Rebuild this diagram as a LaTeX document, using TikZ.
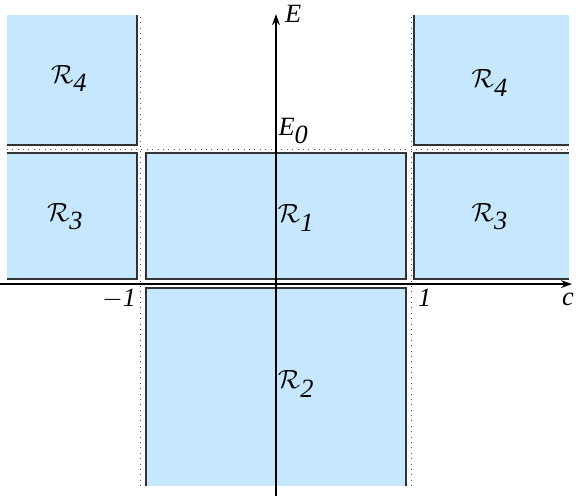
\documentclass[tikz,border=0pt]{standalone}
\usepackage{fontspec}
\setmainfont{Liberation Serif}
\usetikzlibrary{arrows.meta,positioning}
\definecolor{regfill}{RGB}{197,231,255}

\begin{document}
\begin{tikzpicture}[x=2.16cm, y=2.16cm, font=\large, region/.style={fill=regfill}, rim/.style={draw=black!80, line width=0.7pt}, guide/.style={dotted, draw=black!70, line width=0.45pt}, axis/.style={-{Stealth[length=5pt,width=3.5pt]}, line width=0.8pt}, lbl/.style={font=\large\itshape, inner sep=1pt}, rname/.style={inner sep=0pt}]
\useasboundingbox (-2.044,-1.570) rectangle (2.222,2.104);
% regions
\fill[region] (-1.993,1.030) rectangle (-1.030,1.993);
\fill[region] (1.022,1.030) rectangle (2.170,1.993);
\fill[region] (-1.993,0.037) rectangle (-1.030,0.970);
\fill[region] (-0.963,0.037) rectangle (0.963,0.970);
\fill[region] (1.022,0.037) rectangle (2.170,0.970);
\fill[region] (-0.963,-1.496) rectangle (0.963,-0.030);
% region edges
\draw[rim] (-1.993,1.030) -| (-1.030,1.993);
\draw[rim] (2.170,1.030) -| (1.022,1.993);
\draw[rim] (-1.993,0.970) -| (-1.030,0.037) -- (-1.993,0.037);
\draw[rim] (-0.963,0.037) rectangle (0.963,0.970);
\draw[rim] (2.170,0.970) -| (1.022,0.037) -- (2.170,0.037);
\draw[rim] (-0.963,-1.496) |- (0.963,-0.030) -- (0.963,-1.496);
% dotted guides
\draw[guide] (-1,-1.496) -- (-1,1.993);
\draw[guide] (1,-1.496) -- (1,1.993);
\draw[guide] (-1.993,1) -- (2.170,1);
% axes
\coordinate (ebot) at (0,-1.570);
\coordinate (etip) at (0,2.0);
\coordinate (cbeg) at (-2.044,0);
\coordinate (ctip) at (2.193,0);
\coordinate (e0) at (0,1);
\coordinate (mone) at (-1,0);
\coordinate (one) at (1,0);
\draw[axis] (ebot) -- (etip);
\draw[axis] (cbeg) -- (ctip);
\node[lbl, anchor=west, xshift=3pt] (elab) at (etip) {E};
\node[lbl, anchor=south west, xshift=0pt, yshift=1pt] (e0lab) at (e0) {E$_{\textit{0}}$};
\node[lbl, anchor=north east, xshift=2pt, yshift=-3pt] (clab) at (ctip) {c};
\node[lbl, anchor=north east, xshift=-1pt, yshift=-1pt] (monelab) at (mone) {$-$1};
\node[lbl, anchor=north west, xshift=2pt, yshift=-1pt] (onelab) at (one) {1};
% region names
\node[rname] (r4l) at (-1.53,1.52) {$\mathcal{R}_{\textit{4}}$};
\node[rname] (r4r) at (1.585,1.49) {$\mathcal{R}_{\textit{4}}$};
\node[rname] (r3l) at (-1.56,0.50) {$\mathcal{R}_{\textit{3}}$};
\node[rname] (r1) at (0.15,0.49) {$\mathcal{R}_{\textit{1}}$};
\node[rname] (r3r) at (1.585,0.50) {$\mathcal{R}_{\textit{3}}$};
\node[rname] (r2) at (0.15,-0.74) {$\mathcal{R}_{\textit{2}}$};
\end{tikzpicture}
\end{document}
